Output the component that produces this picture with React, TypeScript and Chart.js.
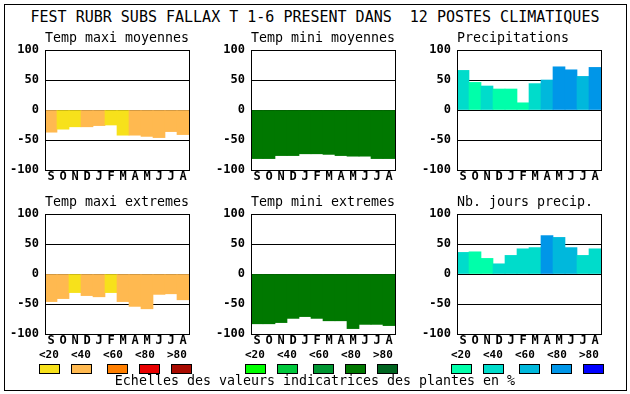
import React, { useEffect, useRef } from 'react';
import { Chart, registerables } from 'chart.js';

Chart.register(...registerables);

// ---------- data ----------
const TITLE = 'FEST RUBR SUBS FALLAX T 1-6 PRESENT DANS\u00a0\u00a012 POSTES CLIMATIQUES';
const FOOTER = 'Echelles des valeurs indicatrices des plantes en %';
const MONTHS = ['S', 'O', 'N', 'D', 'J', 'F', 'M', 'A', 'M', 'J', 'J', 'A'];
const Y_MIN = -100;
const Y_MAX = 100;
const Y_STEP = 50;
const LEGEND_LABELS = ['<20', '<40', '<60', '<80', '>80'];

const RED_SCALE = ['#f7e11b', '#ffb950', '#ff7f00', '#e80000', '#a80a00'];
const GREEN_SCALE = ['#00ff00', '#00c83c', '#009632', '#007800', '#006420'];
const BLUE_SCALE = ['#00ffaa', '#00dccb', '#00b8dc', '#0096e8', '#0000ff'];

const TMAX_MOY = [-37, -32, -28, -28, -26, -25, -42, -42, -44, -46, -36, -41];
const TMAX_MOY_CLASS = [1, 0, 0, 1, 1, 0, 0, 1, 1, 1, 1, 1];

const TMIN_MOY = [-81, -81, -76, -76, -73, -73, -74, -76, -77, -77, -81, -81];
const TMIN_MOY_CLASS = [3, 3, 3, 3, 3, 3, 3, 3, 3, 3, 3, 3];

const PRECIP = [66, 46, 40, 35, 35, 12, 44, 50, 72, 67, 56, 71];
const PRECIP_CLASS = [1, 0, 1, 0, 0, 0, 1, 2, 3, 3, 2, 3];

const TMAX_EXT = [-46, -41, -31, -36, -38, -31, -46, -54, -58, -34, -33, -43];
const TMAX_EXT_CLASS = [1, 1, 0, 1, 1, 0, 1, 1, 1, 1, 1, 1];

const TMIN_EXT = [-83, -83, -81, -74, -71, -74, -78, -78, -91, -84, -84, -86];
const TMIN_EXT_CLASS = [3, 3, 3, 3, 3, 3, 3, 3, 3, 3, 3, 3];

const NB_JOURS = [36, 37, 26, 17, 31, 42, 44, 64, 61, 44, 31, 42];
const NB_JOURS_CLASS = [1, 0, 0, 1, 1, 1, 1, 3, 2, 2, 1, 1];

// ---------- layout ----------
const MONO = "'DejaVu Sans Mono', 'Liberation Mono', monospace";
const AXIS_W = 45;
const TITLE_H = 28;
const PLOT_W = 144;
const PLOT_H = 120;
const XAXIS_H = 20;
const CANVAS_W = 200;
const CANVAS_H = TITLE_H + PLOT_H + XAXIS_H;

const framePlugin = {
  id: 'frame',
  afterDraw(chart: any) {
    const { ctx, chartArea } = chart;
    ctx.save();
    ctx.strokeStyle = '#000';
    ctx.lineWidth = 1;
    ctx.strokeRect(
      chartArea.left + 0.5,
      chartArea.top + 0.5,
      chartArea.right - chartArea.left,
      chartArea.bottom - chartArea.top
    );
    ctx.restore();
  },
};

type PanelProps = {
  title: string;
  values: number[];
  classes: number[];
  palette: string[];
  plotLeft: number;
  plotTop: number;
};

function Panel({ title, values, classes, palette, plotLeft, plotTop }: PanelProps) {
  const ref = useRef<HTMLCanvasElement>(null);
  useEffect(() => {
    if (!ref.current) return;
    const chart = new Chart(ref.current, {
      type: 'bar',
      data: {
        labels: MONTHS,
        datasets: [
          {
            data: values,
            backgroundColor: classes.map((c) => palette[c]),
            borderWidth: 0,
            categoryPercentage: 1,
            barPercentage: 1,
          },
        ],
      },
      options: {
        responsive: false,
        maintainAspectRatio: false,
        animation: false,
        devicePixelRatio: 1,
        layout: { padding: { left: 0, right: CANVAS_W - AXIS_W - PLOT_W, top: 0, bottom: 0 } },
        plugins: {
          legend: { display: false },
          tooltip: { enabled: false },
          title: {
            display: true,
            text: title,
            align: 'start',
            fullSize: false,
            color: '#000',
            font: { family: MONO, size: 13.3, weight: 'normal', lineHeight: '13px' },
            padding: { top: 10, bottom: 5 },
          },
        },
        scales: {
          x: {
            grid: { display: false, drawTicks: false, tickLength: 0 },
            border: { display: false },
            ticks: {
              color: '#000',
              font: { family: MONO, size: 12, weight: 'bold', lineHeight: 1.2 },
              padding: 0,
              maxRotation: 0,
              autoSkip: false,
            },
            afterFit: (s: any) => {
              s.height = XAXIS_H;
            },
          },
          y: {
            min: Y_MIN,
            max: Y_MAX,
            z: 1,
            grid: { color: '#000', lineWidth: 1, drawTicks: false },
            border: { display: false },
            ticks: {
              stepSize: Y_STEP,
              color: '#000',
              font: { family: MONO, size: 12, weight: 'bold' },
              padding: 6,
            },
            afterFit: (s: any) => {
              s.width = AXIS_W;
            },
          },
        },
      } as any,
      plugins: [framePlugin],
    });
    return () => chart.destroy();
  }, [title, values, classes, palette]);

  return (
    <canvas
      ref={ref}
      width={CANVAS_W}
      height={CANVAS_H}
      style={{
        position: 'absolute',
        left: plotLeft - AXIS_W,
        top: plotTop - TITLE_H,
        width: CANVAS_W,
        height: CANVAS_H,
      }}
    />
  );
}

function LegendGroup({ left, palette }: { left: number; palette: string[] }) {
  const boxOffsets = [0, 32, 68, 100, 132];
  return (
    <>
      {LEGEND_LABELS.map((lab, i) => (
        <div
          key={'l' + i}
          style={{
            position: 'absolute',
            left: left + 32 * i,
            top: 349,
            font: `bold 11px/11px ${MONO}`,
            color: '#000',
            whiteSpace: 'pre',
          }}
        >
          {lab}
        </div>
      ))}
      {palette.map((c, i) => (
        <div
          key={'b' + i}
          style={{
            position: 'absolute',
            left: left + boxOffsets[i],
            top: 364,
            width: 21,
            height: 10,
            boxSizing: 'border-box',
            border: '1px solid #000',
            background: c,
          }}
        />
      ))}
    </>
  );
}

export default function App() {
  return (
    <div
      style={{
        position: 'absolute',
        left: 0,
        top: 0,
        width: 630,
        height: 394,
        background: '#fff',
        overflow: 'hidden',
      }}
    >
      <div
        style={{
          position: 'absolute',
          left: 4,
          top: 4,
          width: 623,
          height: 387,
          boxSizing: 'border-box',
          border: '1px solid #000',
        }}
      />
      <div
        style={{
          position: 'absolute',
          left: 0,
          top: 10,
          width: 630,
          textAlign: 'center',
          font: `15px/15px ${MONO}`,
          color: '#000',
          whiteSpace: 'pre',
        }}
      >
        {TITLE}
      </div>

      <Panel title="Temp maxi moyennes" values={TMAX_MOY} classes={TMAX_MOY_CLASS} palette={RED_SCALE} plotLeft={45} plotTop={50} />
      <Panel title="Temp mini moyennes" values={TMIN_MOY} classes={TMIN_MOY_CLASS} palette={GREEN_SCALE} plotLeft={251} plotTop={50} />
      <Panel title="Precipitations" values={PRECIP} classes={PRECIP_CLASS} palette={BLUE_SCALE} plotLeft={457} plotTop={50} />
      <Panel title="Temp maxi extremes" values={TMAX_EXT} classes={TMAX_EXT_CLASS} palette={RED_SCALE} plotLeft={45} plotTop={214} />
      <Panel title="Temp mini extremes" values={TMIN_EXT} classes={TMIN_EXT_CLASS} palette={GREEN_SCALE} plotLeft={251} plotTop={214} />
      <Panel title="Nb. jours precip." values={NB_JOURS} classes={NB_JOURS_CLASS} palette={BLUE_SCALE} plotLeft={457} plotTop={214} />

      <LegendGroup left={39} palette={RED_SCALE} />
      <LegendGroup left={245} palette={GREEN_SCALE} />
      <LegendGroup left={451} palette={BLUE_SCALE} />

      <div
        style={{
          position: 'absolute',
          left: 0,
          top: 374,
          width: 630,
          textAlign: 'center',
          font: `13.3px/14px ${MONO}`,
          color: '#000',
          whiteSpace: 'pre',
        }}
      >
        {FOOTER}
      </div>
    </div>
  );
}
